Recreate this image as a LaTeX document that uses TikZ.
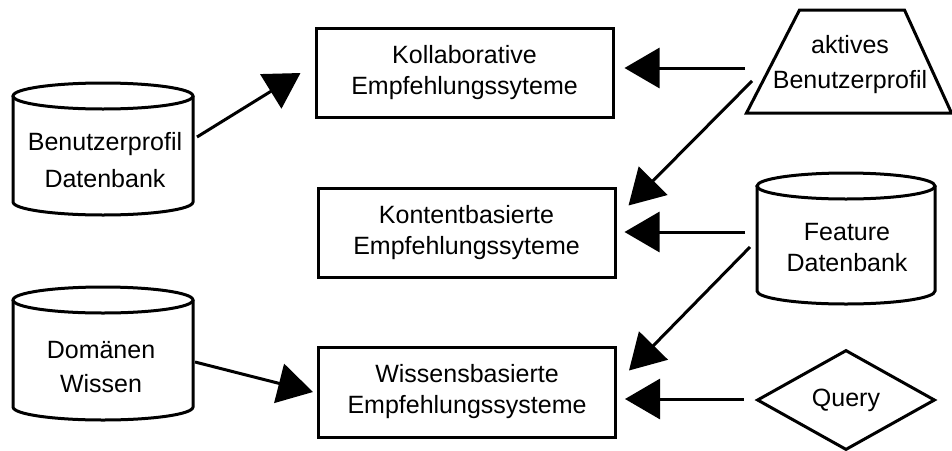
\documentclass[tikz,border=0pt]{standalone}
\usepackage{fontspec}
\setmainfont{Liberation Sans}
\usetikzlibrary{arrows.meta,shapes.geometric,calc}

\tikzset{
  lbl/.style={font=\fontsize{25}{31}\selectfont, align=center, inner sep=0pt},
  sysbox/.style={lbl, draw, rectangle, minimum width=297pt, minimum height=89pt},
  frame/.style={inner sep=0pt, outer sep=0pt},
  arr/.style={-{Triangle[length=35pt,width=40pt]}},
}

% database drum: side walls, bottom rim and top ellipse of a framing node
\newcommand\drum[2]{%
  \draw ([yshift=-13pt]#1.north west) -- ([yshift=13pt]#1.south west)
    arc[start angle=180,end angle=360,x radius=#2,y radius=13pt]
    -- ([yshift=-13pt]#1.north east);
  \draw ([yshift=-13pt]#1.north) ellipse[x radius=#2,y radius=13pt];}

\begin{document}
\begin{tikzpicture}[x=1pt,y=-1pt,line width=3pt]
\useasboundingbox (0,0) rectangle (952,450);

% recommender systems
\node[sysbox] (koll) at (464.5,72.5) {Kollaborative\\Empfehlungssyteme};
\node[sysbox] (kont) at (466.5,232.5) {Kontentbasierte\\Empfehlungssyteme};
\node[sysbox, minimum height=90pt] (wiss) at (467,392) {Wissensbasierte\\Empfehlungssysteme};

% databases on the left
\node[frame, minimum width=180pt, minimum height=132pt] (bdb) at (103,149) {};
\drum{bdb}{90pt}
\node[lbl, font=\fontsize{25}{37}\selectfont] (bdbt) at (105,160) {Benutzerprofil\\Datenbank};

\node[frame, minimum width=180pt, minimum height=133pt] (dom) at (103,353.5) {};
\drum{dom}{90pt}
\node[lbl, font=\fontsize{25}{34}\selectfont] (domt) at (101,367) {Domänen\\Wissen};

% inputs on the right
\node[frame, minimum width=205pt, minimum height=103pt] (akt) at (849,61.5) {};
\draw (akt.south west) -- ([xshift=53pt]akt.north west)
  -- ([xshift=-47pt]akt.north east) -- (akt.south east) -- cycle;
\node[lbl, font=\fontsize{25}{35}\selectfont] (aktt) at (850,65) {aktives\\Benutzerprofil};

\node[frame, minimum width=178pt, minimum height=131pt] (fdb) at (846,238.5) {};
\drum{fdb}{89pt}
\node[lbl] (fdbt) at (847,248) {Feature\\Datenbank};

\node[lbl, draw, diamond, aspect=1.78, minimum width=178pt, minimum height=100pt] (qry) at (846,400) {Query};

% connections
\draw[arr] ($(bdb.east)+(4,-12)$) -- ($(koll.west)+(-14,0.5)$);
\draw[arr] ($(akt.center)+(-104,6.5)$) -- ($(koll.east)+(10,-4.5)$);
\draw[arr] ($(akt.center)+(-97,19.5)$) -- ($(kont.north east)+(12,19)$);
\draw[arr] ($(fdb.west)+(-12,-6.5)$) -- ($(kont.east)+(8,-0.5)$);
\draw[arr] ($(fdb.west)+(-7,8.5)$) -- ($(wiss.north east)+(12,25)$);
\draw[arr] ($(qry.west)+(-12,-1)$) -- ($(wiss.east)+(8,7)$);
\draw[arr] ($(dom.east)+(2,8.5)$) -- ($(wiss.west)+(-4,0)$);
\end{tikzpicture}
\end{document}
